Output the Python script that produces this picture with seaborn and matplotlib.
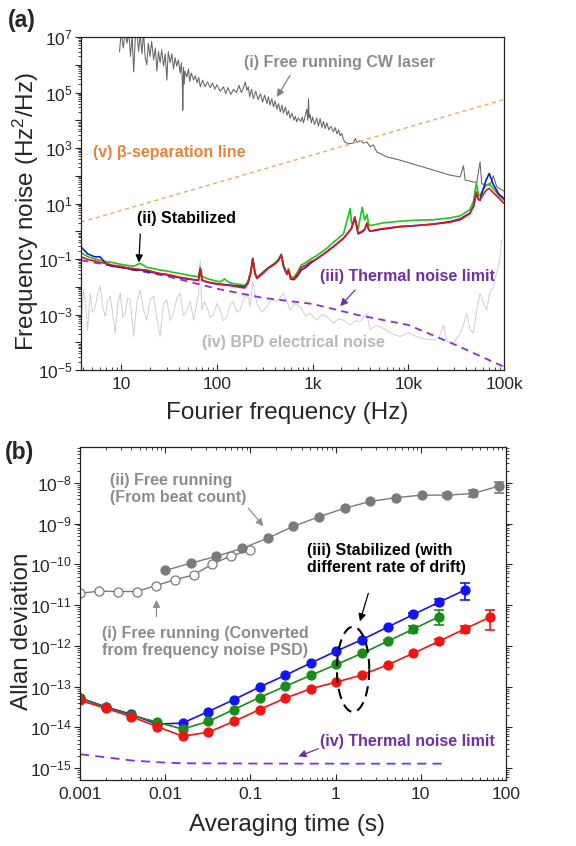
import numpy as np
import pandas as pd
import matplotlib
matplotlib.use("Agg")
import matplotlib.pyplot as plt
import seaborn as sns
from matplotlib.ticker import LogLocator, FuncFormatter, NullFormatter, FixedLocator

# ---------------- Panel (a) data : frequency noise PSD ----------------
f_free = [9.6, 10.0, 10.5, 11.0, 11.5, 12.0, 12.5, 13.0, 13.5, 14.0, 14.6, 15.2, 15.8,
          16.5, 17.1, 17.8, 18.5, 19.2, 20.0, 20.8, 21.8, 22.7, 23.6, 24.5, 25.5, 26.5,
          27.7, 28.8, 30.0, 31.0, 32.5, 33.8, 35.2, 36.6, 38.0, 39.6, 41.3, 42.5, 43.5,
          44.0, 44.8, 45.5, 46.5, 48.5, 50.5, 52, 54, 57, 59.5, 62, 64.5, 67, 71, 75,
          80, 85, 90, 95, 100, 108, 117, 124, 130, 140, 149, 160, 170, 180, 190, 198,
          206, 213, 220, 230, 241, 255, 270, 285, 300, 315, 333, 345, 360, 375, 390,
          405, 423, 440, 460, 478, 496, 520, 540, 560, 582, 610, 640, 660, 684, 710,
          750, 780, 803, 840, 869, 890, 906, 920, 943, 970, 1000, 1050, 1107, 1150,
          1199, 1250, 1300, 1350, 1406, 1480, 1550, 1652, 1720, 1800, 1870, 1940, 2020,
          2100, 2200, 2300, 2466, 2650, 2800, 2897, 3140, 3400, 3683, 3990, 4300, 4690,
          5000, 5960, 8210, 12250, 18300, 27300, 34800, 37700, 39200, 47900, 52000,
          56200, 58500, 65000, 71500, 77400, 83900, 100000]
psd_free = [2.9e6, 1.5e7, 4e6, 1.5e7, 6e6, 1.5e7, 2e6, 1.2e7, 5.5e5, 8e6, 1.5e7, 3e6,
            1.2e7, 2.5e6, 1.5e7, 1.8e6, 1e6, 6e6, 2e6, 7e6, 1.5e6, 4e6, 6e5, 3e6, 1.2e6,
            3.5e6, 9e5, 2.5e6, 2.8e5, 3e6, 1.2e6, 2.5e6, 7e5, 1.8e6, 9e5, 1.5e6, 5e5,
            1.2e6, 3e5, 2.3e4, 8e5, 2e5, 6e5, 3.6e5, 7e5, 2.5e5, 5e5, 2.8e5, 4e5, 2.2e5,
            3.5e5, 1.6e5, 2.8e5, 1.6e5, 2.4e5, 1.5e5, 2.2e5, 1.3e5, 1.9e5, 1.1e5, 1.6e5,
            9e4, 1.5e5, 8.5e4, 1.3e5, 1.0e5, 1.8e5, 1.0e5, 1.5e5, 2.4e5, 1.2e5, 1.6e5,
            7e4, 1.3e5, 6e4, 1.1e5, 5.5e4, 9e4, 4.5e4, 8e4, 4e4, 7e4, 3.5e4, 6e4, 3e4,
            5e4, 2.5e4, 4e4, 2e4, 3.5e4, 1.8e4, 3e4, 1.5e4, 2.2e4, 1.2e4, 1.8e4, 1e4,
            1.4e4, 8.7e3, 1.2e4, 9e3, 1.3e4, 8e3, 1.5e4, 2.5e4, 1e4, 6e4, 1.2e4, 1.6e4,
            8e3, 1.3e4, 7e3, 1.2e4, 6e3, 1.15e4, 5.5e3, 9e3, 5e3, 8e3, 4.5e3, 6e3,
            3.8e3, 5.5e3, 3.2e3, 4.5e3, 2.8e3, 3.3e3, 2e3, 1.6e3, 1.5e3, 1.45e3, 1.5e3,
            2.2e3, 1.6e3, 1.8e3, 1.5e3, 1.66e3, 1.1e3, 1.3e3, 720, 650, 480, 365, 240,
            160, 105, 91, 230, 70, 60, 58, 320, 52, 46, 46, 100, 40, 28]

f_bpd = [3.82, 4.05, 4.25, 4.45, 4.74, 5.0, 5.35, 5.7, 6.04, 6.4, 6.81, 7.2, 7.68, 8.2,
         8.66, 9.2, 9.77, 10.4, 11.0, 11.7, 12.4, 13.5, 14.6, 15.8, 17.1, 18.5, 20.1,
         21.8, 23.6, 25.5, 27.7, 30.0, 32.5, 35.2, 38.2, 41.3, 44.8, 48.5, 52.6, 57.0,
         61, 64.3, 66.9, 69.6, 74, 78.5, 85, 92, 100, 108, 117, 127, 138, 149, 162,
         175, 190, 206, 222, 237, 261, 295, 332, 375, 423, 496, 583, 660, 741, 840,
         943, 1107, 1250, 1406, 1652, 1850, 2100, 2466, 2800, 3140, 3683, 3990, 4600,
         5500, 6800, 8210, 10000, 12250, 15000, 18300, 21000, 23300, 25200, 29600,
         34800, 37500, 40800, 44000, 47900, 52000, 56200, 61000, 66000, 71000, 77400,
         82000, 87400, 91000, 94600]
psd_bpd = [6.3e-4, 7.6e-3, 2.5e-3, 2.6e-4, 5.9e-3, 1.2e-3, 1.9e-3, 6e-3, 1.05e-2,
           2e-3, 8.5e-4, 3e-3, 4.6e-3, 9e-4, 2.1e-4, 2.5e-3, 5.9e-3, 8e-4, 1.1e-3,
           4e-3, 3.4e-3, 1.6e-4, 3e-3, 7.6e-3, 1.5e-3, 6.3e-4, 3.5e-3, 4.6e-3, 7e-4,
           1.6e-4, 2.5e-3, 3.4e-3, 6e-4, 1.1e-3, 4e-3, 5.9e-3, 9e-4, 1.4e-3, 3e-3,
           6.3e-4, 2e-3, 5.8e-3, 9.1e-2, 1.45e-3, 3e-3, 1.9e-3, 8e-4, 9.6e-4, 2.5e-3,
           1.45e-3, 6e-4, 8.3e-4, 2.2e-3, 2.9e-3, 1.2e-3, 1.45e-3, 3.5e-3, 5.8e-3,
           2e-3, 1.5e-2, 2.5e-3, 1.2e-3, 1.9e-3, 3.5e-3, 2.9e-3, 5.8e-3, 1.45e-3,
           2.5e-3, 1.9e-3, 9e-4, 1.1e-3, 6.3e-4, 1e-3, 8.3e-4, 4.8e-4, 7e-4, 6.3e-4,
           4.2e-4, 6e-4, 5.5e-4, 1.1e-3, 2.8e-4, 4e-4, 3.2e-4, 2e-4, 1.6e-4, 2.2e-4,
           1.6e-4, 1.3e-4, 1.2e-4, 1.5e-4, 4.2e-4, 1.2e-4, 9.1e-5, 2.1e-4, 4e-4,
           1.1e-3, 3e-4, 2.1e-4, 1.5e-3, 5.8e-3, 2.5e-3, 1.45e-3, 6e-3, 1.0e-2, 2.5e-2,
           5.2e-2, 1.2e-1, 4.8e-1]

f_stab = [3.8, 4.5, 5.3, 6.0, 7.0, 8.0, 9.8, 11, 13.5, 15.8, 18.5, 22, 25.5, 30, 35, 41,
          48.5, 57, 64, 67, 70, 78, 92, 108, 120, 135, 150, 175, 195, 210, 225, 237,
          250, 262, 300, 340, 400, 440, 470, 500, 540, 560, 590, 640, 700, 760, 850,
          950, 1100, 1400, 1650, 2100, 2470, 2550, 2650, 2760, 2990, 3300, 3500, 3700,
          3850, 4000, 4700, 5500, 8200, 12000, 18000, 27000, 35000, 44000, 48000,
          51500, 54000, 56000, 60000, 65000, 70000, 77000, 88000, 100000]
psd_red = [0.12, 0.095, 0.085, 0.075, 0.07, 0.06, 0.055, 0.05, 0.045, 0.042, 0.04,
           0.034, 0.03, 0.028, 0.025, 0.022, 0.02, 0.018, 0.017, 0.045, 0.018, 0.015,
           0.013, 0.012, 0.0115, 0.011, 0.0105, 0.0095, 0.009, 0.013, 0.03, 0.1, 0.03,
           0.02, 0.03, 0.045, 0.065, 0.09, 0.14, 0.05, 0.028, 0.04, 0.02, 0.019, 0.03,
           0.05, 0.06, 0.08, 0.1, 0.18, 0.28, 0.55, 1.1, 1.3, 2.0, 3.3, 0.85, 1.0, 1.2,
           2.0, 1.2, 1.0, 1.15, 1.25, 1.5, 1.6, 1.8, 2.1, 2.6, 4.3, 8, 26, 14, 13, 20,
           30, 35, 25, 16, 10]
psd_green = [0.17, 0.12, 0.1, 0.09, 0.08, 0.075, 0.065, 0.06, 0.055, 0.07, 0.05, 0.045,
             0.04, 0.037, 0.033, 0.03, 0.027, 0.024, 0.023, 0.05, 0.024, 0.02, 0.017,
             0.015, 0.019, 0.014, 0.013, 0.012, 0.011, 0.015, 0.035, 0.11, 0.032, 0.022,
             0.033, 0.048, 0.07, 0.095, 0.15, 0.055, 0.03, 0.045, 0.023, 0.022, 0.035,
             0.06, 0.075, 0.1, 0.13, 0.24, 0.4, 0.8, 6.6, 2.0, 1.8, 2.5, 1.2, 7.3, 2.5,
             4.0, 1.8, 1.6, 1.8, 2.0, 2.3, 2.5, 2.6, 3.0, 3.6, 6.0, 12, 55, 20, 19, 30,
             45, 52, 35, 20, 13]
psd_blue = [0.27, 0.15, 0.12, 0.12, 0.065, 0.055, 0.05, 0.048, 0.04, 0.04, 0.036, 0.032,
            0.029, 0.027, 0.024, 0.021, 0.019, 0.018, 0.017, 0.042, 0.017, 0.015,
            0.0135, 0.0125, 0.012, 0.0115, 0.011, 0.0105, 0.01, 0.013, 0.03, 0.1, 0.03,
            0.02, 0.03, 0.045, 0.065, 0.09, 0.14, 0.05, 0.028, 0.038, 0.019, 0.018,
            0.025, 0.04, 0.05, 0.07, 0.1, 0.18, 0.28, 0.55, 1.1, 1.3, 2.0, 3.1, 0.8,
            0.95, 1.15, 1.9, 1.15, 1.0, 1.1, 1.2, 1.45, 1.6, 1.8, 2.2, 2.8, 4.5, 8, 23,
            14, 13, 30, 70, 120, 50, 22, 15]

f_thermal = [3.8, 10, 30, 100, 300, 1000, 3000, 10000, 30000, 100000]
psd_thermal = [0.09, 0.05, 0.024, 0.0085, 0.0040, 0.0024, 0.00095, 4.2e-4, 8.5e-5, 1.3e-5]

f_beta = [3.8, 100000]
psd_beta = [2.13, 5.6e4]

# ---------------- Panel (b) data : Allan deviation ----------------
tau_stab = [0.001, 0.002, 0.004, 0.008, 0.016, 0.032, 0.064, 0.128, 0.256, 0.512,
            1.024, 2.048, 4.096, 8.192, 16.384, 32.768, 65.536]
adev_blue = [5.3e-14, 3.2e-14, 2.1e-14, 1.2e-14, 1.28e-14, 2.45e-14, 4.8e-14, 9.8e-14,
             1.9e-13, 3.8e-13, 7.5e-13, 1.43e-12, 2.9e-12, 5.9e-12, 1.18e-11, 2.34e-11]
adev_green = [5.2e-14, 3.1e-14, 2.0e-14, 1.35e-14, 9.1e-15, 1.4e-14, 2.75e-14, 5.4e-14,
              1.02e-13, 1.9e-13, 3.5e-13, 6.6e-13, 1.3e-12, 2.6e-12, 5.2e-12]
adev_red = [4.6e-14, 2.95e-14, 1.84e-14, 1.05e-14, 6.1e-15, 7.6e-15, 1.4e-14, 2.75e-14,
            5.2e-14, 8.9e-14, 1.3e-13, 1.94e-13, 3.45e-13, 6.6e-13, 1.3e-12, 2.6e-12,
            5.1e-12]
# error-bar bounds (low, high) for the last points of each series
err_blue = {13: (5.4e-12, 6.4e-12), 14: (1.0e-11, 1.4e-11), 15: (1.32e-11, 3.4e-11)}
err_green = {12: (1.2e-12, 1.4e-12), 13: (2.1e-12, 3.1e-12), 14: (3.2e-12, 7.6e-12)}
err_red = {14: (1.1e-12, 1.5e-12), 15: (2.1e-12, 3.1e-12), 16: (2.4e-12, 7.7e-12)}

tau_beat = [0.01, 0.02, 0.04, 0.08, 0.16, 0.32, 0.64, 1.28, 2.56, 5.12, 10.24, 20.48,
            40.96, 81.92]
adev_beat = [7.1e-11, 1.07e-10, 1.58e-10, 2.47e-10, 4.4e-10, 8.6e-10, 1.47e-9, 2.4e-9,
             3.5e-9, 4.35e-9, 5.0e-9, 5.0e-9, 5.5e-9, 8.3e-9]
err_beat = {11: (4.5e-9, 5.5e-9), 12: (4.6e-9, 6.5e-9), 13: (5.5e-9, 1.05e-8)}

tau_conv = [0.001, 0.00167, 0.00278, 0.00464, 0.00774, 0.0129, 0.0215, 0.0359, 0.0599, 0.1]
adev_conv = [1.96e-11, 2.2e-11, 2.16e-11, 2.16e-11, 3.0e-11, 4.2e-11, 5.5e-11, 1.03e-10,
             1.62e-10, 2.28e-10]

tau_th = [0.001, 0.002, 0.004, 0.008, 0.016, 0.1, 1, 20]
adev_th = [2.2e-15, 1.85e-15, 1.55e-15, 1.4e-15, 1.32e-15, 1.3e-15, 1.29e-15, 1.29e-15]

a_xticks = [10, 100, 1000, 10000, 100000]
a_xticklabels = ["10", "100", "1k", "10k", "100k"]
b_xticks = [0.001, 0.01, 0.1, 1, 10, 100]
b_xticklabels = ["0.001", "0.01", "0.1", "1", "10", "100"]

# ---------------- styling ----------------
sns.set_theme(style="ticks")
plt.rcParams["font.family"] = ["Liberation Sans", "DejaVu Sans"]
plt.rcParams["mathtext.default"] = "regular"
plt.rcParams["axes.linewidth"] = 0.9
plt.rcParams["axes.edgecolor"] = "#222222"

C_GRAY_A = "#666666"
C_BPD = "#cfcfcf"
C_PURPLE = "#8a2be2"
C_PURPLE_T = "#7030a0"
C_ORANGE = "#f2a65a"
C_ORANGE_T = "#e8823c"
C_TXT_GRAY = "#8c8c8c"

fig = plt.figure(figsize=(5.76, 8.46), dpi=100)
ax1 = fig.add_axes([81 / 576, 1 - 370 / 846, 423 / 576, 333 / 846])
ax2 = fig.add_axes([80 / 576, 1 - 780 / 846, 426 / 576, 333 / 846])

# ---------------- panel (a) ----------------
sns.lineplot(x=f_bpd, y=psd_bpd, ax=ax1, color=C_BPD, lw=0.7, estimator=None, sort=False)
sns.lineplot(x=f_free, y=psd_free, ax=ax1, color=C_GRAY_A, lw=0.75, estimator=None, sort=False)
sns.lineplot(x=f_beta, y=psd_beta, ax=ax1, color=C_ORANGE, lw=1.0, estimator=None,
             sort=False, dashes=False)
ax1.lines[-1].set_dashes((3, 2.5))
sns.lineplot(x=f_thermal, y=psd_thermal, ax=ax1, color=C_PURPLE, lw=1.3, estimator=None,
             sort=False)
ax1.lines[-1].set_dashes((4, 3))
for vals, col in [(psd_green, "#1fc41f"), (psd_blue, "#1818d8"), (psd_red, "#e81515")]:
    sns.lineplot(x=f_stab, y=vals, ax=ax1, color=col, lw=1.2, estimator=None, sort=False)

ax1.set_xscale("log")
ax1.set_yscale("log")
ax1.set_xlim(3.8, 1e5)
ax1.set_ylim(1e-5, 1e7)
ax1.xaxis.set_major_locator(FixedLocator(a_xticks))
ax1.xaxis.set_major_formatter(FuncFormatter(lambda v, p: a_xticklabels[a_xticks.index(v)]
                                            if v in a_xticks else ""))
ax1.xaxis.set_minor_locator(LogLocator(base=10, subs=np.arange(2, 10), numticks=30))
ax1.xaxis.set_minor_formatter(NullFormatter())
ax1.yaxis.set_major_locator(LogLocator(base=10, numticks=30))
ax1.yaxis.set_major_formatter(FuncFormatter(
    lambda v, p: (r"$10^{%d}$" % round(np.log10(v))) if round(np.log10(v)) % 2 != 0 else ""))
ax1.yaxis.set_minor_locator(LogLocator(base=10, subs=np.arange(2, 10), numticks=30))
ax1.yaxis.set_minor_formatter(NullFormatter())
ax1.tick_params(axis="y", which="major", direction="out", length=4, width=0.8, labelsize=12.5, pad=2)
ax1.tick_params(axis="y", which="minor", direction="out", length=2, width=0.6)
ax1.tick_params(axis="x", which="major", direction="in", length=4, width=0.8, labelsize=12.5, pad=5)
ax1.tick_params(axis="x", which="minor", direction="in", length=2, width=0.6)
ax1.set_xlabel("Fourier frequency (Hz)", fontsize=17.5)
ax1.set_ylabel("Frequency noise (Hz$^2$/Hz)", fontsize=17.5)
ax1.xaxis.set_label_coords(0.487, -0.095)
ax1.yaxis.set_label_coords(-0.095, 0.477)

bold = dict(fontsize=11.5, fontweight="bold")
ax1.text(339 / 576, 1 - 63 / 846, "(i) Free running CW laser", transform=fig.transFigure,
         color=C_TXT_GRAY, ha="center", va="center", **bold)
ax1.text(93 / 576, 1 - 153 / 846, "(v) β-separation line", transform=fig.transFigure,
         color=C_ORANGE_T, ha="left", va="center", **bold)
ax1.text(137 / 576, 1 - 219 / 846, "(ii) Stabilized", transform=fig.transFigure,
         color="black", ha="left", va="center", **bold)
ax1.text(320 / 576, 1 - 276 / 846, "(iii) Thermal noise limit", transform=fig.transFigure,
         color=C_PURPLE_T, ha="left", va="center", **bold)
ax1.text(202 / 576, 1 - 343 / 846, "(iv) BPD electrical noise", transform=fig.transFigure,
         color="#b8b8b8", ha="left", va="center", **bold)

arrow = lambda c: dict(arrowstyle="-|>", color=c, lw=0.9, mutation_scale=11, shrinkA=0, shrinkB=0)
ax1.annotate("", xy=(423, 6.9e4), xytext=(583, 4.2e5), arrowprops=arrow("#808080"))
ax1.annotate("", xy=(15.3, 0.075), xytext=(15.8, 0.8), arrowprops=arrow("black"))
ax1.annotate("", xy=(1940, 0.002), xytext=(2780, 0.0076), arrowprops=arrow(C_PURPLE_T))

fig.text(8 / 576, 1 - 20 / 846, "(a)", fontsize=16.5, fontweight="bold", ha="left", va="center")

# ---------------- panel (b) ----------------
def series(ax, x, y, col, err=None, mfc=None, ms=6.5, lw=1.2):
    sns.lineplot(x=x, y=y, ax=ax, color=col, lw=lw, marker="o", markersize=ms,
                 markeredgecolor=col, markerfacecolor=mfc if mfc else col,
                 markeredgewidth=0.9, estimator=None, sort=False)
    if err:
        idx = sorted(err)
        xe = [x[i] for i in idx]
        ye = [y[i] for i in idx]
        lo = [y[i] - err[i][0] for i in idx]
        hi = [err[i][1] - y[i] for i in idx]
        ax.errorbar(xe, ye, yerr=[lo, hi], fmt="none", ecolor=col, elinewidth=1.2,
                    capsize=3.5, capthick=1.2)

series(ax2, tau_conv, adev_conv, "#7a7a7a", mfc="white", lw=1.0)
series(ax2, tau_beat, adev_beat, "#7a7a7a", err=err_beat, lw=1.0)
series(ax2, tau_stab[:len(adev_blue)], adev_blue, "#1414f0", err=err_blue)
series(ax2, tau_stab[:len(adev_green)], adev_green, "#1a8a1a", err=err_green)
series(ax2, tau_stab[:len(adev_red)], adev_red, "#f01414", err=err_red)
sns.lineplot(x=tau_th, y=adev_th, ax=ax2, color=C_PURPLE, lw=1.3, estimator=None, sort=False)
ax2.lines[-1].set_dashes((5, 3.5))

# dashed ellipse around tau = 1-2 s (log-space ellipse)
ell_c = (0.205, -12.575)
ell_r = (0.19, 1.045)
t = np.linspace(0, 2 * np.pi, 200)
ax2.plot(10 ** (ell_c[0] + ell_r[0] * np.cos(t)), 10 ** (ell_c[1] + ell_r[1] * np.sin(t)),
         color="black", lw=1.5, dashes=(5, 3))

ax2.set_xscale("log")
ax2.set_yscale("log")
ax2.set_xlim(0.001, 100)
ax2.set_ylim(10 ** -15.29, 10 ** -7.12)
ax2.xaxis.set_major_locator(FixedLocator(b_xticks))
ax2.xaxis.set_major_formatter(FuncFormatter(lambda v, p: b_xticklabels[b_xticks.index(v)]
                                            if v in b_xticks else ""))
ax2.xaxis.set_minor_locator(LogLocator(base=10, subs=np.arange(2, 10), numticks=30))
ax2.xaxis.set_minor_formatter(NullFormatter())
ax2.yaxis.set_major_locator(LogLocator(base=10, numticks=30))
ax2.yaxis.set_major_formatter(FuncFormatter(lambda v, p: r"$10^{%d}$" % round(np.log10(v))))
ax2.yaxis.set_minor_locator(LogLocator(base=10, subs=np.arange(2, 10), numticks=30))
ax2.yaxis.set_minor_formatter(NullFormatter())
ax2.tick_params(axis="y", which="major", direction="out", length=4, width=0.8, labelsize=12.5,
                pad=2, right=True)
ax2.tick_params(axis="y", which="minor", direction="out", length=2, width=0.6, right=True)
ax2.tick_params(axis="x", which="major", direction="in", length=4, width=0.8, labelsize=12.5,
                pad=5, top=True)
ax2.tick_params(axis="x", which="minor", direction="in", length=2, width=0.6, top=True)
ax2.set_xlabel("Averaging time (s)", fontsize=17.5)
ax2.set_ylabel("Allan deviation", fontsize=17.5)
ax2.xaxis.set_label_coords(0.486, -0.102)
ax2.yaxis.set_label_coords(-0.11, 0.447)

ax2.text(110 / 576, 1 - 489 / 846, "(ii) Free running\n(From beat count)",
         transform=fig.transFigure, color=C_TXT_GRAY, ha="left", va="center",
         linespacing=1.2, **bold)
ax2.text(102 / 576, 1 - 642 / 846, "(i) Free running (Converted\nfrom frequency noise PSD)",
         transform=fig.transFigure, color=C_TXT_GRAY, ha="left", va="center",
         linespacing=1.2, **bold)
ax2.text(307 / 576, 1 - 559 / 846, "(iii) Stabilized (with\ndifferent rate of drift)",
         transform=fig.transFigure, color="black", ha="left", va="center",
         linespacing=1.2, **bold)
ax2.text(320 / 576, 1 - 741 / 846, "(iv) Thermal noise limit",
         transform=fig.transFigure, color=C_PURPLE_T, ha="left", va="center", **bold)

ax2.annotate("", xy=(0.142, 8.6e-10), xytext=(0.0946, 2.4e-9), arrowprops=arrow("#909090"))
ax2.annotate("", xy=(0.0079, 1.35e-11), xytext=(0.0079, 5.2e-12), arrowprops=arrow("#909090"))
ax2.annotate("", xy=(1.93, 4.0e-12), xytext=(2.42, 1.95e-11), arrowprops=arrow("black"))
ax2.annotate("", xy=(0.366, 1.95e-15), xytext=(0.63, 3.0e-15), arrowprops=arrow(C_PURPLE_T))

fig.text(5 / 576, 1 - 452 / 846, "(b)", fontsize=16.5, fontweight="bold", ha="left", va="center")

fig.savefig("out.png", dpi=100)
